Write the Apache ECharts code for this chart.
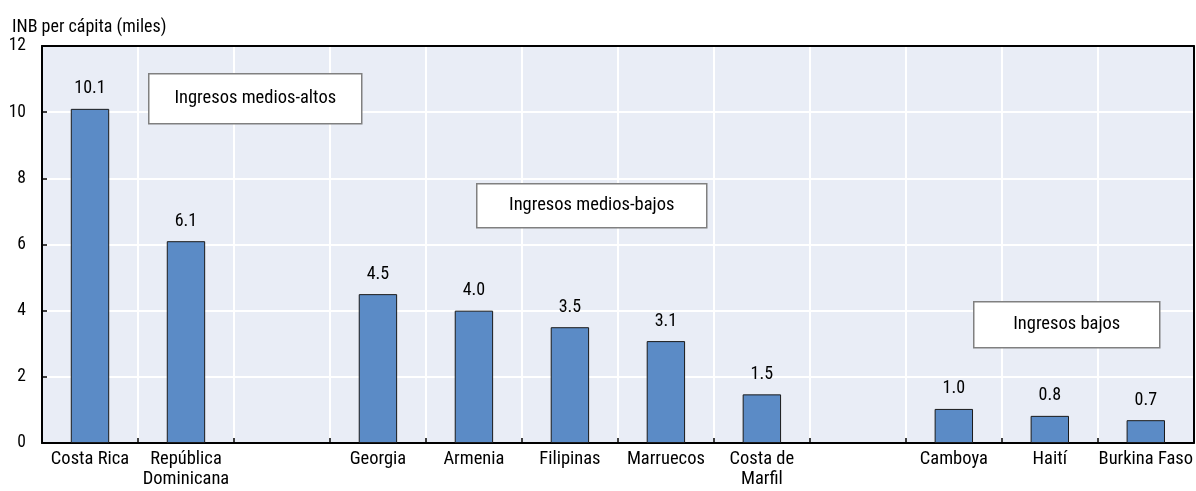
<!DOCTYPE html>
<html><head><meta charset="utf-8">
<script src="https://cdn.jsdelivr.net/npm/echarts@6/dist/echarts.min.js"></script>
<style>html,body{margin:0;padding:0;background:#fff}#c{width:1196px;height:491px}</style>
</head><body><div id="c"></div>
<script>
var categories = ['Costa Rica', 'República\nDominicana', '', 'Georgia', 'Armenia', 'Filipinas', 'Marruecos', 'Costa de\nMarfil', '', 'Camboya', 'Haití', 'Burkina Faso'];
var values = [10.1, 6.1, null, 4.5, 4.0, 3.5, 3.08, 1.47, null, 1.03, 0.82, 0.69];
var yTicks = [0, 2, 4, 6, 8, 10, 12];
var groupLabels = ['Ingresos medios-altos', 'Ingresos medios-bajos', 'Ingresos bajos'];
var axisTitle = 'INB per cápita (miles)';

var FONT = '"Roboto Condensed", "Liberation Sans Narrow", "Liberation Sans", Arial, sans-serif';
var sAxis = 18.5, sVal = 18, sTick = 17.5, sTitle = 18, sBox = 18.5;

var chart = echarts.init(document.getElementById('c'), null, {renderer: 'canvas'});

function box(x, y, bw, bh, text) {
  return {
    type: 'group', left: x, top: y, z: 100,
    children: [
      {type: 'rect', z: 100, shape: {x: 0, y: 0, width: bw, height: bh},
       style: {fill: '#fff', stroke: '#808080', lineWidth: 1.5}},
      {type: 'text', z: 101, x: bw / 2, y: bh / 2,
       style: {text: text, fill: '#000', font: sBox + 'px ' + FONT, align: 'center', verticalAlign: 'middle'}}
    ]
  };
}

chart.setOption({
  animation: false,
  title: {text: axisTitle, left: 7, top: 13,
    textStyle: {fontSize: sTitle, fontWeight: 'normal', color: '#000', fontFamily: FONT}},
  grid: {left: 42, right: 1, top: 46, bottom: 48, show: true,
    backgroundColor: '#E9EDF6', borderWidth: 0},
  xAxis: [{
    type: 'category', data: categories, boundaryGap: true,
    axisLine: {lineStyle: {color: '#000', width: 2}},
    axisTick: {show: true, inside: true, interval: 0, length: 5, lineStyle: {color: '#000', width: 1.5}},
    axisLabel: {interval: 0, color: '#000', fontSize: sAxis, fontFamily: FONT, margin: 7, lineHeight: sAxis + 1},
    splitLine: {show: true, interval: 0, lineStyle: {color: '#fff', width: 2}}
  }, {
    type: 'category', data: categories, position: 'top', z: 10,
    axisLine: {show: true, onZero: false, lineStyle: {color: '#000', width: 2}},
    axisTick: {show: false}, axisLabel: {show: false}, splitLine: {show: false}
  }],
  yAxis: [{
    type: 'value', min: yTicks[0], max: yTicks[yTicks.length - 1], interval: 2,
    axisLine: {show: true, lineStyle: {color: '#000', width: 2}},
    axisTick: {show: true, inside: true, length: 5, lineStyle: {color: '#000', width: 1.5}},
    axisLabel: {color: '#000', fontSize: sTick, fontFamily: FONT, margin: 16},
    splitLine: {show: true, lineStyle: {color: '#fff', width: 2}}
  }, {
    type: 'value', min: yTicks[0], max: yTicks[yTicks.length - 1], interval: 2, position: 'right', z: 10,
    axisLine: {show: true, onZero: false, lineStyle: {color: '#000', width: 2}},
    axisTick: {show: false}, axisLabel: {show: false}, splitLine: {show: false}
  }],
  series: [{
    type: 'bar', data: values, barWidth: '40%',
    itemStyle: {color: '#5B8BC6', borderColor: '#1a1a1a', borderWidth: 1},
    label: {show: true, position: 'top', distance: 11, color: '#000', fontSize: sVal, fontFamily: FONT,
      formatter: function (p) { return p.value == null ? '' : p.value.toFixed(1); }}
  }],
  graphic: [
    box(148, 73, 213, 50, groupLabels[0]),
    box(476, 183, 230, 44, groupLabels[1]),
    box(973, 301, 186, 46, groupLabels[2])
  ]
});
</script></body></html>
